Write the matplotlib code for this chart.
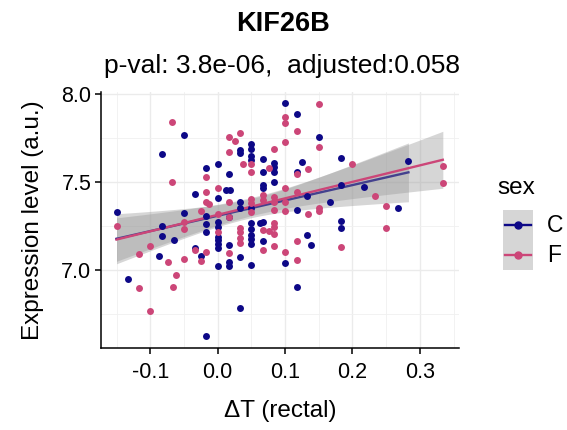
import numpy as np
import matplotlib
matplotlib.use("Agg")
import matplotlib.pyplot as plt
from matplotlib.lines import Line2D
from matplotlib.patches import Rectangle
from matplotlib.ticker import MultipleLocator

plt.rcParams['font.family'] = ['Liberation Sans', 'DejaVu Sans']

# ---------------- data ----------------
title = "KIF26B"
subtitle = "p-val: 3.8e-06,  adjusted:0.058"
legend_title = "sex"
groups = ["C", "F"]
group_colors = ["#0D0887", "#CC4678"]

c_dT = [-0.15, -0.083, -0.083, -0.083, -0.087, -0.133, -0.065, -0.05, 0.033, 0.033,
        0.0, -0.017, 0.017, 0.1, 0.117, 0.05, 0.05, 0.05, 0.05, 0.067,
        0.083, 0.083, 0.083, 0.067, 0.125, 0.117, 0.013, 0.018, -0.033, 0.0,
        0.033, 0.033, -0.05, -0.017, 0.0, 0.0, -0.017, -0.017, 0.0, 0.0,
        0.0, 0.0, 0.017, -0.033, -0.024, 0.033, 0.017, 0.067, 0.067, 0.083,
        0.05, 0.05, 0.05, 0.05, 0.05, 0.05, 0.063, 0.067, 0.067, 0.117,
        0.1, 0.05, 0.15, 0.133, 0.167, 0.133, 0.138, 0.183, 0.183, 0.217,
        0.267, 0.283, 0.183, 0.183, -0.017, 0.0, 0.017, 0.017, 0.033, 0.117]
c_expr = [7.328, 7.657, 7.250, 7.195, 7.076, 6.949, 7.170, 7.767, 7.682, 7.666,
          7.604, 7.578, 7.544, 7.947, 7.886, 7.714, 7.686, 7.648, 7.625, 7.631,
          7.606, 7.584, 7.559, 7.555, 7.615, 7.559, 7.455, 7.455, 7.430, 7.411,
          7.385, 7.351, 7.324, 7.307, 7.270, 7.246, 7.261, 7.218, 7.189, 7.170,
          7.148, 7.125, 7.142, 7.123, 7.076, 7.072, 7.299, 7.483, 7.464, 7.502,
          7.351, 7.265, 7.233, 7.199, 7.176, 7.148, 7.265, 7.274, 7.165, 7.338,
          7.038, 7.028, 7.757, 7.420, 7.388, 7.199, 7.142, 7.638, 7.483, 7.472,
          7.354, 7.621, 7.278, 7.237, 6.621, 7.019, 7.047, 7.024, 6.782, 6.902]

f_dT = [-0.067, -0.067, -0.15, -0.1, -0.117, -0.074, -0.117, -0.062, -0.066, -0.1,
        0.017, 0.026, 0.033, 0.017, -0.017, 0.038, 0.1, 0.1, 0.117, 0.1,
        0.083, 0.05, 0.076, 0.05, 0.117, 0.15, 0.15, 0.134, 0.0, -0.017,
        -0.013, 0.017, -0.024, -0.05, -0.05, 0.0, 0.017, 0.0, 0.033, 0.033,
        0.033, 0.033, -0.05, -0.033, -0.017, -0.024, 0.017, 0.05, 0.05, 0.067,
        0.067, 0.083, 0.083, 0.1, 0.117, 0.1, 0.083, 0.05, 0.1, 0.067,
        0.076, 0.083, 0.083, 0.083, 0.083, 0.067, 0.1, 0.117, 0.117, 0.134,
        0.15, 0.15, 0.2, 0.233, 0.25, 0.25, 0.334, 0.334, 0.183, -0.017]
f_expr = [7.843, 7.502, 7.252, 7.136, 7.091, 7.045, 6.899, 6.972, 6.902, 6.763,
          7.757, 7.735, 7.777, 7.670, 7.530, 7.601, 7.868, 7.837, 7.791, 7.729,
          7.688, 7.601, 7.581, 7.559, 7.545, 7.941, 7.701, 7.574, 7.464, 7.388,
          7.373, 7.385, 7.337, 7.273, 7.233, 7.316, 7.303, 7.214, 7.240, 7.214,
          7.182, 7.152, 7.063, 7.110, 7.101, 7.051, 7.095, 7.403, 7.379, 7.426,
          7.398, 7.416, 7.388, 7.464, 7.445, 7.385, 7.341, 7.331, 7.335, 7.227,
          7.223, 7.265, 7.246, 7.203, 7.136, 7.110, 7.104, 7.166, 7.053, 7.318,
          7.351, 7.335, 7.604, 7.422, 7.365, 7.240, 7.589, 7.493, 7.127, 7.445]

x_ticks = [-0.1, 0.0, 0.1, 0.2, 0.3]
y_ticks = [7.0, 7.5, 8.0]

# ---------------- figure ----------------
W, H = 567, 430
fig = plt.figure(figsize=(W/100, H/100), dpi=100)
ax = fig.add_axes([101/W, 1-348/H, (459-101)/W, (348-92)/H])

def t975(df):
    z = 1.959964
    return z + (z**3 + z)/(4*df) + (5*z**5 + 16*z**3 + 3*z)/(96*df**2)

series = [(c_dT, c_expr), (f_dT, f_expr)]
for i, (xs, ys) in enumerate(series):
    x = np.asarray(xs, float)
    y = np.asarray(ys, float)
    n = len(x)
    b, a = np.polyfit(x, y, 1)
    res = y - (a + b*x)
    s = np.sqrt(np.sum(res**2)/(n-2))
    xm = x.mean()
    sxx = np.sum((x-xm)**2)
    xg = np.linspace(x.min(), x.max(), 100)
    yg = a + b*xg
    se = s*np.sqrt(1/n + (xg-xm)**2/sxx)
    t = t975(n-2)
    ax.fill_between(xg, yg - t*se, yg + t*se, color="#999999", alpha=0.4,
                    linewidth=0, zorder=2 + 2*i)
    ax.plot(xg, yg, color=group_colors[i], lw=1.7, zorder=3 + 2*i)

for i, (xs, ys) in enumerate(series):
    ax.scatter(xs, ys, s=25, color=group_colors[i], linewidths=0, zorder=10)

ax.set_xlim(-0.173, 0.358)
ax.set_ylim(6.555, 8.012)
ax.set_xticks(x_ticks)
ax.set_xticklabels([f"{v:.1f}" for v in x_ticks])
ax.set_yticks(y_ticks)
ax.set_yticklabels([f"{v:.1f}" for v in y_ticks])
ax.xaxis.set_minor_locator(MultipleLocator(0.05))
ax.yaxis.set_minor_locator(MultipleLocator(0.25))
ax.grid(which="major", color="#EBEBEB", lw=1.0, zorder=0)
ax.grid(which="minor", color="#F0F0F0", lw=0.6, zorder=0)
ax.set_axisbelow(True)
for sp in ["top", "right"]:
    ax.spines[sp].set_visible(False)
for sp in ["left", "bottom"]:
    ax.spines[sp].set_linewidth(1.1)
    ax.spines[sp].set_color("black")
ax.tick_params(which="major", direction="out", length=4, width=1.1,
               labelsize=15.5, colors="black")
ax.tick_params(axis="x", which="major", pad=6)
ax.tick_params(axis="y", which="major", pad=3)
ax.tick_params(which="minor", length=0)

ax.set_xlabel("ΔT (rectal)", fontsize=17.5, labelpad=12)
ax.set_ylabel("Expression level (a.u.)", fontsize=17.5, labelpad=12)

fig.text(283/W, 1-31/H, title, ha="center", va="baseline",
         fontsize=19.5, fontweight="bold")
fig.text(282/W, 1-73/H, subtitle, ha="center", va="baseline", fontsize=19)

# ---------------- legend (ggplot style keys) ----------------
fig.text(497/W, 1-194/H, legend_title, ha="left", va="baseline", fontsize=17.5)
key_top, key_h, key_x0, key_w = 210, 30, 503, 30
for i, (g, c) in enumerate(zip(groups, group_colors)):
    y0 = key_top + i*key_h
    fig.patches.append(Rectangle((key_x0/W, 1-(y0+key_h)/H), key_w/W, key_h/H,
                                 transform=fig.transFigure, facecolor="#D6D6D6",
                                 edgecolor="none"))
    yc = 1-(y0 + key_h/2)/H
    fig.lines.append(Line2D([(key_x0+2)/W, (key_x0+key_w-2)/W], [yc, yc],
                            transform=fig.transFigure, color=c, lw=1.7))
    fig.lines.append(Line2D([(key_x0+key_w/2)/W], [yc], transform=fig.transFigure,
                            color=c, marker="o", markersize=5, lw=0))
    fig.text(547/W, yc, g, ha="left", va="center", fontsize=16.5)

fig.savefig("out.png", dpi=100)
